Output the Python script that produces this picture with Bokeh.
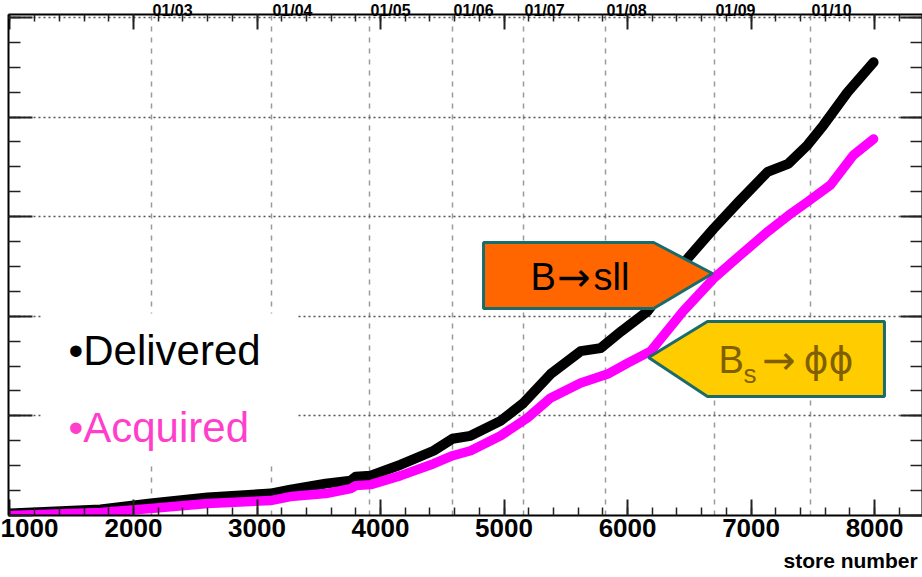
from bokeh.plotting import figure
from bokeh.models import (LinearAxis, Grid, FixedTicker, SingleIntervalTicker, Range1d)
from bokeh.core.properties import value
from bokeh.embed import file_html
from bokeh.resources import INLINE

# ---------------- data ----------------
store_delivered = [1000, 1733, 2138, 2600, 3109, 3271, 3555, 3758, 3799, 3920,
                   4163, 4430, 4583, 4729, 4972, 5158, 5377, 5620, 5782, 5950,
                   6162, 6486, 6697, 6900, 7134, 7300, 7458, 7587, 7781, 7992]
lumi_delivered = [40, 120, 240, 360, 440, 520, 640, 700, 780, 800,
                  1020, 1300, 1540, 1600, 1900, 2260, 2840, 3300, 3360, 3700,
                  4100, 5160, 5760, 6300, 6900, 7060, 7440, 7840, 8500, 9100]

store_acquired = [1000, 1733, 2138, 2600, 3109, 3271, 3555, 3758, 3799, 3920,
                  4163, 4430, 4583, 4729, 4972, 5190, 5377, 5620, 5839, 6000,
                  6187, 6450, 6697, 6900, 7134, 7300, 7458, 7644, 7830, 7992]
lumi_acquired = [0, 60, 140, 240, 300, 380, 440, 540, 600, 620,
                 800, 1040, 1200, 1300, 1600, 1960, 2360, 2660, 2840, 3060,
                 3300, 4100, 4760, 5200, 5700, 6020, 6300, 6640, 7240, 7560]

date_labels = ["01/03", "01/04", "01/05", "01/06", "01/07", "01/08", "01/09", "01/10"]
date_stores = [2146, 3117, 3911, 4583, 5158, 5822, 6704, 7482]

legend_labels = ["\u2022Delivered", "\u2022Acquired"]
legend_colors = ["#000000", "#FF3FCC"]

x_title = "store number"

# ---------------- figure ----------------
X0, X1 = 988, 8388
Y0, Y1 = 0, 10060
DATE_SHIFT = 170     # date labels start at their grid line (axis labels are centred)
X_TITLE_POS = 7806   # centre of the right-aligned x-axis title

p = figure(width=922, height=591, output_backend="svg", toolbar_location=None,
           x_axis_type=None, y_axis_type=None,
           x_range=Range1d(X0, X1), y_range=Range1d(Y0, Y1),
           min_border_left=8, min_border_right=0, min_border_top=20,
           min_border_bottom=70)
p.styles = {"margin-top": "-6px"}
p.outline_line_color = None
p.background_fill_color = "white"
p.border_fill_color = "white"
p.extra_x_ranges = {"dates": Range1d(X0 - DATE_SHIFT, X1 - DATE_SHIFT)}


def make_axis(ticker, major_len, minor_len, labels=False):
    ax = LinearAxis(ticker=ticker, major_tick_in=major_len, major_tick_out=0,
                    minor_tick_in=minor_len, minor_tick_out=0,
                    axis_line_width=2, axis_line_color="black",
                    major_tick_line_width=2, minor_tick_line_width=1.5,
                    major_tick_line_color="#222222", minor_tick_line_color="#222222")
    if labels:
        ax.major_label_text_font = "Liberation Sans"
        ax.major_label_text_font_style = "bold"
        ax.major_label_text_font_size = "26px"
        ax.major_label_text_color = "black"
        ax.major_label_standoff = 3
    else:
        ax.major_label_text_font_size = "0px"
        ax.major_label_standoff = 0
    return ax


def label_axis(ticker, labels, size, standoff, range_name="default"):
    return LinearAxis(x_range_name=range_name, ticker=ticker,
                      major_label_overrides=labels,
                      axis_line_color=None, major_tick_line_color=None,
                      minor_tick_line_color=None, major_tick_in=0, major_tick_out=0,
                      minor_tick_in=0, minor_tick_out=0,
                      major_label_standoff=standoff, major_label_text_font="Liberation Sans",
                      major_label_text_font_style="bold", major_label_text_font_size=size,
                      major_label_text_color="black")


p.add_layout(make_axis(SingleIntervalTicker(interval=1000, num_minor_ticks=5), 16, 8, labels=True), "below")
p.add_layout(label_axis(FixedTicker(ticks=[X_TITLE_POS]), {X_TITLE_POS: x_title}, "21px", 9), "below")
p.add_layout(make_axis(SingleIntervalTicker(interval=1000, num_minor_ticks=5), 15, 7), "above")
p.add_layout(make_axis(SingleIntervalTicker(interval=2000, num_minor_ticks=4), 24, 12), "left")
p.add_layout(make_axis(SingleIntervalTicker(interval=2000, num_minor_ticks=4), 22, 12), "right")

# date labels along the top
p.add_layout(label_axis(FixedTicker(ticks=date_stores), dict(zip(date_stores, date_labels)),
                        "16px", -4, range_name="dates"), "above")

# grids
vgrid = Grid(dimension=0, ticker=FixedTicker(ticks=date_stores),
             grid_line_color="#9a9a9a", grid_line_dash="5 6", grid_line_width=1.5)
hgrid = Grid(dimension=1, ticker=SingleIntervalTicker(interval=2000),
             grid_line_color="#555555", grid_line_dash="2 3", grid_line_width=1.5)
p.add_layout(vgrid)
p.add_layout(hgrid)

# white box behind the legend text
p.quad(left=[1250], right=[3330], bottom=[1044], top=[4056],
       fill_color="white", line_color=None)

# curves
p.line(store_delivered, lumi_delivered, line_width=10, line_color="black",
       line_cap="round", line_join="round")
p.line(store_acquired, lumi_acquired, line_width=9.5, line_color="#FF00FF",
       line_cap="round", line_join="round")

# callouts
p.patch([4834, 6211, 6688, 6211, 4834], [5482, 5482, 4859, 4157, 4157],
        fill_color="#FF6600", line_color="#1A6B6B", line_width=3)
p.patch([6170, 6647, 8080, 8080, 6647], [3173, 3896, 3896, 2390, 2390],
        fill_color="#FFCC00", line_color="#1A6B6B", line_width=3)


def txt(x, y, s, size, color, font="Liberation Sans"):
    p.text(x=[x], y=[y], text=[s], text_font=value(font),
           text_font_size=value(size), text_color=color,
           text_baseline="alphabetic", text_align="left")


# B -> s l l
txt(5215, 4799, "B", "38px", "black")
txt(5430, 4799, "\u2192", "40px", "black", "DejaVu Sans")
txt(5725, 4799, "sll", "38px", "black")
# B_s -> phi phi
txt(6737, 3132, "B", "38px", "#7F6000")
txt(6939, 2832, "s", "26px", "#7F6000")
txt(7090, 3132, "\u2192", "40px", "#7F6000", "DejaVu Sans")
txt(7425, 3132, "\u03d5\u03d5", "38px", "#7F6000", "DejaVu Sans")

# legend texts
p.text(x=[1474, 1474], y=[3313, 1767], text=legend_labels,
       text_color=legend_colors, text_font=value("Liberation Sans"),
       text_font_size=value("42px"), text_baseline="alphabetic", text_align="left")

open("out.html", "w").write(file_html(p, INLINE))
